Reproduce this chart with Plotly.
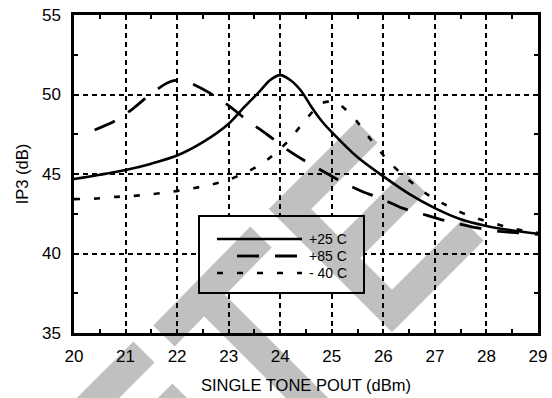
import numpy as np
import plotly.graph_objects as go

# +25 C
pout_25 = [20, 20.5, 21, 21.5, 22, 22.5, 23, 23.3, 23.6, 23.8, 24, 24.2, 24.4, 24.6, 24.8, 25,
           25.5, 26, 26.5, 27, 27.5, 28, 28.5, 29]
ip3_25 = [44.68, 44.95, 45.25, 45.65, 46.16, 47.0, 48.16, 49.2, 50.2, 50.9, 51.22, 50.9, 50.25, 49.25,
          48.35, 47.63, 46.05, 44.85, 43.75, 42.85, 42.15, 41.73, 41.45, 41.24]

# +85 C
pout_85 = [20.4, 20.8, 21.14, 21.5, 21.86, 22.1, 22.31, 22.63, 23.0, 23.37, 23.74, 24.15, 24.49,
           24.89, 25.24, 25.59, 25.98, 26.37, 26.74, 27.1, 27.46, 27.8, 28.2, 28.6, 29]
ip3_85 = [47.77, 48.35, 49.1, 50.06, 50.8, 50.9, 50.65, 50.1, 49.3, 48.35, 47.5, 46.5, 45.8,
          45.06, 44.43, 43.9, 43.42, 42.85, 42.5, 42.15, 41.87, 41.62, 41.41, 41.3, 41.2]

# -40 C
pout_m40 = [20, 20.4, 20.8, 21.14, 21.5, 21.9, 22.3, 22.67, 23.03, 23.4, 23.75, 24.15, 24.43, 24.79,
            24.95, 25.14, 25.47, 25.76, 26.1, 26.47, 26.83, 27.18, 27.57, 27.92, 28.33, 28.68, 29]
ip3_m40 = [43.42, 43.45, 43.56, 43.62, 43.73, 43.88, 44.1, 44.33, 44.68, 45.2, 45.89, 47.06, 48.16, 49.43,
           49.55, 49.4, 48.37, 47.15, 45.8, 44.68, 43.77, 43.1, 42.5, 42.1, 41.73, 41.46, 41.3]

names = ["+25 C", "+85 C", "- 40 C"]
x_ticks = list(range(20, 30))
y_ticks = [35, 40, 45, 50, 55]

# plot box (px) and ranges
L, T, W, H = 74, 15, 464, 318
X0, X1, Y0, Y1 = 20, 29, 35, 55


def to_data(px, py):
    return X0 + (px - L) / W * (X1 - X0), Y1 - (py - T) / H * (Y1 - Y0)


def to_paper(px, py):
    return (px - L) / W, (T + H - py) / H


def band(points, w):
    p = np.array(points, float)
    d = np.diff(p, axis=0)
    d /= np.linalg.norm(d, axis=1)[:, None]
    n = np.stack([-d[:, 1], d[:, 0]], axis=1)
    offs = [n[0]]
    for i in range(1, len(p) - 1):
        m = n[i - 1] + n[i]
        m /= np.linalg.norm(m)
        offs.append(m / np.dot(m, n[i]))
    offs.append(n[-1])
    offs = np.array(offs) * w / 2
    return [tuple(v) for v in np.vstack([p + offs, (p - offs)[::-1]])]


def clip(poly, xmin, ymin, xmax, ymax):
    def edge(pts, inside, cut):
        out = []
        for i in range(len(pts)):
            cur, prev = pts[i], pts[i - 1]
            if inside(cur):
                if not inside(prev):
                    out.append(cut(prev, cur))
                out.append(cur)
            elif inside(prev):
                out.append(cut(prev, cur))
        return out

    def cx(c):
        return lambda a, b: (c, a[1] + (b[1] - a[1]) * (c - a[0]) / (b[0] - a[0]))

    def cy(c):
        return lambda a, b: (a[0] + (b[0] - a[0]) * (c - a[1]) / (b[1] - a[1]), c)

    pts = edge(poly, lambda q: q[0] >= xmin, cx(xmin))
    if pts: pts = edge(pts, lambda q: q[0] <= xmax, cx(xmax))
    if pts: pts = edge(pts, lambda q: q[1] >= ymin, cy(ymin))
    if pts: pts = edge(pts, lambda q: q[1] <= ymax, cy(ymax))
    return pts


def path(pts, conv):
    c = [conv(*q) for q in pts]
    return "M " + " L ".join(f"{a:.5f},{b:.5f}" for a, b in c) + " Z"


# watermark strokes in px
marks = [
    [(367, 132), (290, 209), (392, 311), (473, 230)],
    [(415, 182), (339, 258)],
    [(261, 237), (164, 336)],
    [(203, 294), (320, 411)],
    [(144, 352), (85, 411)],
    [(183, 394), (165, 412)],
]
GRAY = "#c0c0c0"
bands = [band(m, 30) for m in marks]

# legend box (px)
LB = (199, 216, 364, 293)

shapes = []
for b in bands:
    shapes.append(dict(type="path", xref="paper", yref="paper", layer="below",
                       path=path(b, to_paper), fillcolor=GRAY, line=dict(width=0)))
lx0, ly0 = to_data(LB[0], LB[3])
lx1, ly1 = to_data(LB[2], LB[1])
shapes.append(dict(type="rect", xref="x", yref="y", layer="between", x0=lx0, y0=ly0, x1=lx1, y1=ly1,
                   fillcolor="white", line=dict(width=0)))
for b in bands:
    c = clip(b, LB[0] + 1, LB[1] + 1, LB[2] - 1, LB[3] - 1)
    if len(c) > 2:
        shapes.append(dict(type="path", xref="x", yref="y", layer="between",
                           path=path(c, to_data), fillcolor=GRAY, line=dict(width=0)))
shapes.append(dict(type="rect", xref="x", yref="y", layer="above", x0=lx0, y0=ly0, x1=lx1, y1=ly1,
                   line=dict(color="black", width=2)))

styles = [dict(color="black", width=2.6),
          dict(color="black", width=2.8, dash="22px,16px"),
          dict(color="black", width=2.6, dash="6px,14px")]

# legend samples
sample_x = [(217, 302), (237, 302), (217, 302)]
sample_y = [239, 256, 273]
annotations = []
for nm, st, (sx0, sx1), sy in zip(names, styles, sample_x, sample_y):
    a0, b0 = to_data(sx0, sy)
    a1, _ = to_data(sx1, sy)
    shapes.append(dict(type="line", xref="x", yref="y", layer="above", x0=a0, x1=a1, y0=b0, y1=b0,
                       line=st))
    tx, ty = to_data(349, sy)
    annotations.append(dict(x=tx, y=ty, xref="x", yref="y", text=nm, showarrow=False,
                            xanchor="right", yanchor="middle",
                            font=dict(family="Liberation Sans", size=14, color="black")))

fig = go.Figure()
for xs, ys, nm, st in zip([pout_25, pout_85, pout_m40], [ip3_25, ip3_85, ip3_m40], names, styles):
    fig.add_trace(go.Scatter(x=xs, y=ys, name=nm, mode="lines", line=dict(shape="spline", smoothing=0.8, **st),
                             showlegend=False))

axis = dict(showline=True, linecolor="black", linewidth=2.5, mirror="ticks", automargin=False,
            ticks="inside", ticklen=4, tickwidth=1.5, tickcolor="black",
            showgrid=True, gridcolor="black", gridwidth=1.6, griddash="5px,4px",
            zeroline=False, tickfont=dict(family="Liberation Sans", size=17, color="black"),
            minor=dict(ticks="inside", ticklen=4, tickwidth=1.5, tickcolor="black", showgrid=False))

fig.update_xaxes(range=[X0, X1], tickvals=x_ticks, minor_dtick=0.5, ticklabelstandoff=6,
                 title=dict(text="SINGLE TONE POUT (dBm)", standoff=15,
                            font=dict(family="Liberation Sans", size=16.5, color="black")), **axis)
fig.update_yaxes(range=[Y0, Y1], tickvals=y_ticks, minor_dtick=2.5, ticklabelstandoff=7,
                 title=dict(text="IP3 (dB)", standoff=10,
                            font=dict(family="Liberation Sans", size=16.5, color="black")), **axis)

fig.update_layout(width=552, height=398, margin=dict(l=L, r=552 - L - W, t=T, b=398 - T - H),
                  paper_bgcolor="white", plot_bgcolor="rgba(0,0,0,0)", showlegend=False,
                  shapes=shapes, annotations=annotations)

# drop the page's default body margin so the figure sits at the top-left corner
fig.write_html("out.html", config={"displayModeBar": False},
               post_script="document.body.style.margin = '0';")
